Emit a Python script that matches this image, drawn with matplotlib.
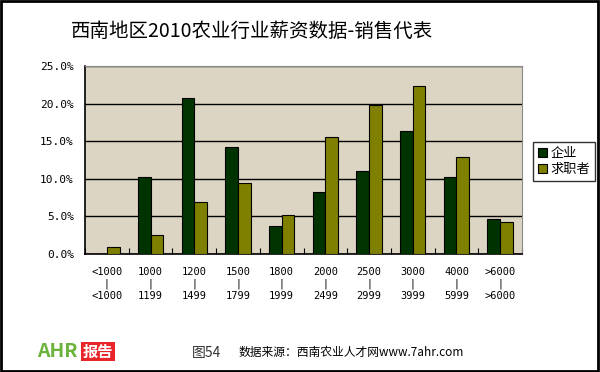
import matplotlib
matplotlib.use("Agg")
import matplotlib.pyplot as plt
import matplotlib.transforms as mtransforms
import numpy as np

plt.rcParams['font.family'] = ['Noto Sans CJK SC', 'DejaVu Sans']

# salary bands (lower / upper label lines)
low_labels = ["<1000", "1000", "1200", "1500", "1800", "2000", "2500", "3000", "4000", ">6000"]
high_labels = ["<1000", "1199", "1499", "1799", "1999", "2499", "2999", "3999", "5999", ">6000"]

# percent values
qiye = [0.0, 10.3, 20.8, 14.2, 3.7, 8.2, 11.1, 16.4, 10.3, 4.6]
qiuzhi = [0.9, 2.6, 6.9, 9.4, 5.2, 15.5, 19.8, 22.3, 12.9, 4.2]

fig = plt.figure(figsize=(6, 3.72), dpi=100)
fig.patch.set_facecolor('white')
ax = fig.add_axes([0.1417, 0.317, 0.7283, 0.5057])
ax.set_facecolor('#ddd5c3')

x = np.arange(len(low_labels))
w = 0.29
ax.bar(x - w / 2, qiye, w, color='#003300', edgecolor='black', linewidth=0.8, label='企业', zorder=3)
ax.bar(x + w / 2, qiuzhi, w, color='#808000', edgecolor='black', linewidth=0.8, label='求职者', zorder=3)

ax.set_xlim(-0.5, len(low_labels) - 0.5)
ax.set_ylim(0, 25)
ax.set_yticks(np.arange(0, 26, 5))
ax.set_yticklabels(["%.1f%%" % v for v in np.arange(0, 26, 5)], fontsize=8, family='DejaVu Sans Mono')
ax.yaxis.grid(True, color='black', linewidth=1, zorder=1)
ax.tick_params(axis='y', length=0, pad=8)

# boundary ticks pointing up
ax.set_xticks(np.arange(-0.5, len(low_labels)))
ax.set_xticklabels([])
ax.tick_params(axis='x', direction='in', length=4, color='black')
trans = mtransforms.blended_transform_factory(ax.transData, fig.transFigure)
for i in x:
    ax.text(i, 0.269, low_labels[i], ha='center', va='center', fontsize=7.5,
            family='DejaVu Sans Mono', transform=trans)
    ax.text(i, 0.237, "|", ha='center', va='center', fontsize=7, family='DejaVu Sans Mono',
            transform=trans)
    ax.text(i, 0.204, high_labels[i], ha='center', va='center', fontsize=7.5,
            family='DejaVu Sans Mono', transform=trans)

for s in ['top', 'right']:
    ax.spines[s].set_color('#888888')
for s in ['left', 'bottom']:
    ax.spines[s].set_color('black')
    ax.spines[s].set_linewidth(1.2)

leg = ax.legend(loc='upper left', bbox_to_anchor=(1.025, 0.595), fontsize=9.5, frameon=True,
                fancybox=False, edgecolor='black', handlelength=0.7, handleheight=0.7,
                handletextpad=0.3, borderpad=0.35, labelspacing=0.25, borderaxespad=0)
leg.get_frame().set_linewidth(1)

fig.text(0.42, 0.915, "西南地区2010农业行业薪资数据-销售代表", ha='center', va='center', fontsize=14)

# footer
fig.text(0.32, 0.052, "图54", fontsize=10, ha='left', va='center', color='#333333')
fig.text(0.398, 0.052, "数据来源：西南农业人才网www.7ahr.com", fontsize=8.5, ha='left', va='center')
fig.text(0.062, 0.055, "AHR", fontsize=14, style='italic', weight='bold', color='#6cb33e',
         ha='left', va='center')
fig.text(0.138, 0.055, "报告", fontsize=11, weight='bold', color='white', ha='left', va='center',
         bbox=dict(boxstyle='square,pad=0.1', facecolor='#e8262a', edgecolor='none'))

# outer border
fig.add_artist(plt.Rectangle((0.002, 0.003), 0.995, 0.994, transform=fig.transFigure,
                             fill=False, edgecolor='black', linewidth=2))

fig.savefig('out.png', dpi=100)
